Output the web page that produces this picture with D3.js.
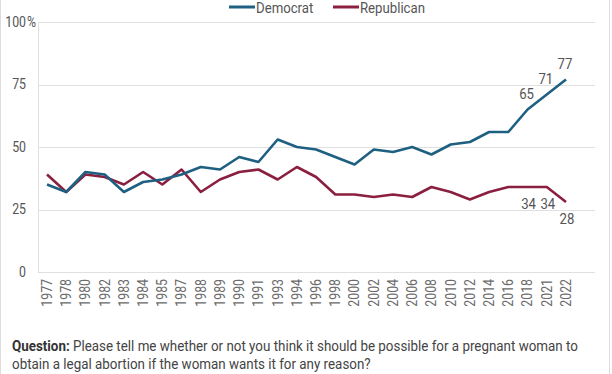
<!DOCTYPE html>
<html>
<head>
<meta charset="utf-8">
<script src="https://cdn.jsdelivr.net/npm/d3@7"></script>
<style>
  body { margin: 0; background: #fff; }
  text { font-family: Roboto, "Noto Sans", sans-serif; fill: #555; }
</style>
</head>
<body>
<div id="chart"></div>
<script>
const years = ['1977','1978','1980','1982','1983','1984','1985','1987','1988','1989','1990','1991','1993','1994',
  '1996','1998','2000','2002','2004','2006','2008','2010','2012','2014','2016','2018','2021','2022']
const democrat = [35,32,40,39,32,36,37,39,42,41,46,44,53,50,49,46,43,49,48,50,47,51,52,56,56,65,71,77]
const republican = [39,32,39,38,35,40,35,41,32,37,40,41,37,42,38,31,31,30,31,30,34,32,29,32,34,34,34,28]
const yTicks = [0,25,50,75,100]
// which points get a value label
const demLabels = ['2018','2021','2022']
const repLabels = ['2018','2021','2022']

const W = 612, H = 374
const sx = 0.88 // squeeze Roboto toward the condensed face of the original

const svg = d3.select('#chart').append('svg')
  .attr('width', W)
  .attr('height', H)

const x = d3.scalePoint().domain(years).range([47, 566])
const y = d3.scaleLinear().domain([0, 100]).range([272, 22])

// condensed text helper: position through a transform so the squeeze keeps the anchor
function ctext(parent, px, py, str, opts = {}) {
  let t = parent.append('text')
    .attr('transform', `translate(${px},${py}) ${opts.rotate ? 'rotate(' + opts.rotate + ')' : ''} scale(${opts.sx || sx},1)`)
    .attr('text-anchor', opts.anchor || 'start')
    .attr('dy', opts.dy || 0)
    .style('font-size', (opts.size || 14) + 'px')
  if (opts.fill) t.style('fill', opts.fill)
  t.text(str)
  return t
}

// frame
svg.append('line').attr('x1', 0.5).attr('x2', 0.5).attr('y1', 0).attr('y2', H).attr('stroke', '#ddd')
svg.append('line').attr('x1', 609.5).attr('x2', 609.5).attr('y1', 0).attr('y2', H).attr('stroke', '#ddd')

// grid
svg.append('g').selectAll('line')
  .data(yTicks)
  .join('line')
    .attr('x1', 38).attr('x2', 595)
    .attr('y1', d => Math.round(y(d)) + 0.5)
    .attr('y2', d => Math.round(y(d)) + 0.5)
    .attr('stroke', '#e0e0e0')
svg.append('line')
  .attr('x1', 38.5).attr('x2', 38.5)
  .attr('y1', y(100)).attr('y2', y(0) + 1)
  .attr('stroke', '#e0e0e0')

// y labels
let yl = svg.append('g')
yTicks.forEach(t => ctext(yl, 26, y(t), t, {anchor: 'end', dy: '0.35em'}))
ctext(yl, 27, y(100), '%', {dy: '0.35em'})

// x labels
let xl = svg.append('g')
years.forEach(yr => ctext(xl, x(yr), 279, yr, {anchor: 'end', rotate: -90, dy: '0.35em', size: 14, fill: '#6a6a6a'}))

// lines
const line = data => d3.line()
  .x((d, i) => x(years[i]))
  .y(d => y(d))(data)

svg.append('path')
  .attr('d', line(republican))
  .attr('fill', 'none')
  .attr('stroke', '#8a1f3f')
  .attr('stroke-width', 2.6)
  .attr('stroke-linejoin', 'round')
svg.append('path')
  .attr('d', line(democrat))
  .attr('fill', 'none')
  .attr('stroke', '#1e6081')
  .attr('stroke-width', 2.6)
  .attr('stroke-linejoin', 'round')

// value labels
let vl = svg.append('g')
demLabels.forEach(yr => {
  let i = years.indexOf(yr)
  ctext(vl, x(yr) - 1, y(democrat[i]) - 11, democrat[i], {anchor: 'middle', size: 15})
})
repLabels.forEach(yr => {
  let i = years.indexOf(yr)
  ctext(vl, x(yr) + 1, y(republican[i]) + 22, republican[i], {anchor: 'middle', size: 15})
})

// legend
const legend = [['Democrat', '#1e6081', 229], ['Republican', '#8a1f3f', 333]]
let lg = svg.append('g')
legend.forEach(([name, color, lx]) => {
  lg.append('line')
    .attr('x1', lx).attr('x2', lx + 26)
    .attr('y1', 7).attr('y2', 7)
    .attr('stroke', color).attr('stroke-width', 3)
  ctext(lg, lx + 27, 7.5, name, {dy: '0.35em', size: 15})
})

// footnote
const note = [
  ['Question:', ' Please tell me whether or not you think it should be possible for a pregnant woman to'],
  ['', 'obtain a legal abortion if the woman wants it for any reason?'],
  ['Source:', ' General Social Survey, the latest conducted May 5-December 20, 2022']
]
note.forEach(([bold, rest], i) => {
  let t = svg.append('text')
    .attr('transform', `translate(12,${351 + i * 18}) scale(0.892,1)`)
    .style('font-size', '15px')
    .style('fill', '#444')
  if (bold) t.append('tspan').style('font-weight', 'bold').style('fill', '#333').text(bold)
  t.append('tspan').text(rest)
})
</script>
</body>
</html>
